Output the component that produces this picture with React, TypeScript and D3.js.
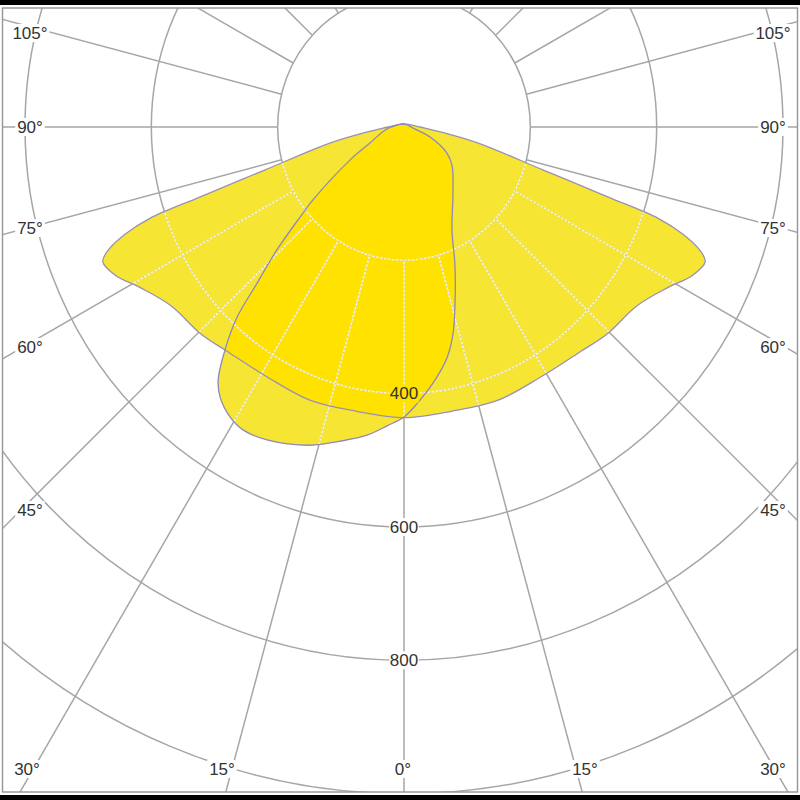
import React from "react";
import * as d3 from "d3";

// C0-C180 plane (symmetric), angle in degrees from nadir, intensity value
const wideAngles = [0, 10, 20, 30, 40, 46, 54, 60, 64, 67, 68.5, 70, 71.2, 72, 73.7, 78.4, 82, 90, 120, 180];
const wideValues = [436, 433, 436, 433, 438, 447, 456, 482, 508, 518, 503, 470, 425, 340, 229, 120, 66, 25, 8, 4];

// C90-C270 plane (asymmetric)
const narrowAngles = [-180, -105, -81.5, -66, -59.9, -52.8, -50.6, -47.5, -44.8, -42.8, -40.3, -37.8, -35.7, -32.3, -29.3, -24.8, -17.3, -12.1, -7.2, -3.4, 0, 2.9, 6.8, 11.1, 14.1, 17.3, 21.3, 26.2, 38, 53.1, 60.2, 70, 84];
const narrowValues = [5, 11, 30, 59, 99, 181, 213, 273, 330, 389, 438, 480, 499, 515, 521, 517, 500, 482, 466, 449, 435, 415, 387, 353, 319, 272, 222, 172, 126, 95, 78, 44, 14];

const ringValues = [200, 400, 600, 800, 1000, 1200];
const ringLabels = [400, 600, 800];
const spokeAngles = d3.range(0, 360, 15);
const sideLabels = ["105°", "90°", "75°", "60°", "45°"];
const bottomLabels = ["30°", "15°", "0°", "15°", "30°"];

const W = 800, H = 800;
const CX = 404, CY = 127;

export default function App() {
  const rY = d3.scaleLinear().domain([0, 1200]).range([0, 800]);
  const rX = d3.scaleLinear().domain([0, 1200]).range([0, 758]);
  const toXY = (a: number, v: number): [number, number] => {
    const t = (a * Math.PI) / 180;
    return [CX + rX(v) * Math.sin(t), CY + rY(v) * Math.cos(t)];
  };
  const line = d3.line<[number, number]>().curve(d3.curveCatmullRomClosed.alpha(0.5));

  const widePts: [number, number][] = [];
  wideAngles.forEach((a, i) => widePts.push(toXY(a, wideValues[i])));
  for (let i = wideAngles.length - 2; i >= 1; i--) widePts.push(toXY(-wideAngles[i], wideValues[i]));
  const narrowPts: [number, number][] = narrowAngles.map((a, i) => toXY(a, narrowValues[i]));
  const widePath = line(widePts) || "";
  const narrowPath = line(narrowPts) || "";

  const inX = rX(200), inY = rY(200);
  const spokes = spokeAngles.map((deg) => {
    const t = (deg * Math.PI) / 180;
    const s = Math.sin(t), c = Math.cos(t);
    const r0 = 1 / Math.sqrt((s / inX) ** 2 + (c / inY) ** 2);
    return { x1: CX + r0 * s, y1: CY + r0 * c, x2: CX + 1300 * s, y2: CY + 1300 * c };
  });

  const grid = (stroke: string, width: number, dash?: string) => (
    <g fill="none" stroke={stroke} strokeWidth={width} strokeDasharray={dash}>
      {ringValues.map((v) => (
        <ellipse key={v} cx={CX} cy={CY} rx={rX(v)} ry={rY(v)} />
      ))}
      {spokes.map((s, i) => (
        <line key={i} x1={s.x1} y1={s.y1} x2={s.x2} y2={s.y2} />
      ))}
    </g>
  );

  const sideYs = [33, 127, 228, 347, 510];
  const bottomXs = [27, 222, 403, 585, 773];
  const font = { fontFamily: "'Liberation Sans', Arial, sans-serif", fontSize: 17, fill: "#333" };

  const label = (txt: string, x: number, y: number, key: string, bg: string) => {
    const w = txt.length * 9.2 + 2;
    return (
      <g key={key}>
        <rect x={x - w / 2} y={y - 9} width={w} height={18} fill={bg} />
        <text x={x} y={y} textAnchor="middle" dominantBaseline="central" {...font}>{txt}</text>
      </g>
    );
  };

  return (
    <svg width={W} height={H} style={{ position: "absolute", left: 0, top: 0, background: "#fff" }}>
      <defs>
        <clipPath id="frame"><rect x={3} y={8} width={794} height={784} /></clipPath>
        <clipPath id="wideClip"><path d={widePath} /></clipPath>
        <clipPath id="unionClip"><path d={widePath} /><path d={narrowPath} /></clipPath>
      </defs>
      <rect x={0} y={0} width={W} height={H} fill="#fff" />
      <g clipPath="url(#frame)">
        {grid("#a6a6a6", 1.5)}
      </g>
      <path d={widePath} fill="#f6e532" />
      <path d={narrowPath} fill="#f6e532" />
      <path d={narrowPath} fill="#ffe200" clipPath="url(#wideClip)" />
      <g clipPath="url(#unionClip)">
        {grid("#fbf7d4", 1.4)}
        {grid("#c9c5ae", 1.2, "1.5 2.5")}
      </g>
      <path d={widePath} fill="none" stroke="#9a90b6" strokeWidth={1.3} />
      <path d={narrowPath} fill="none" stroke="#8f88bd" strokeWidth={1.3} />
      {ringLabels.map((v) => label(String(v), CX, CY + rY(v), "r" + v, v === 400 ? "#ffe200" : "#fff"))}
      {sideLabels.map((t, i) => label(t, 30, sideYs[i], "l" + i, "#fff"))}
      {sideLabels.map((t, i) => label(t, 773, sideYs[i], "rr" + i, "#fff"))}
      {bottomLabels.map((t, i) => label(t, bottomXs[i], 769, "b" + i, "#fff"))}
      <rect x={2.5} y={8} width={795} height={784} fill="none" stroke="#9a9a9a" strokeWidth={1.5} />
      <rect x={0} y={0} width={W} height={5} fill="#000" />
      <rect x={0} y={795} width={W} height={5} fill="#000" />
    </svg>
  );
}
